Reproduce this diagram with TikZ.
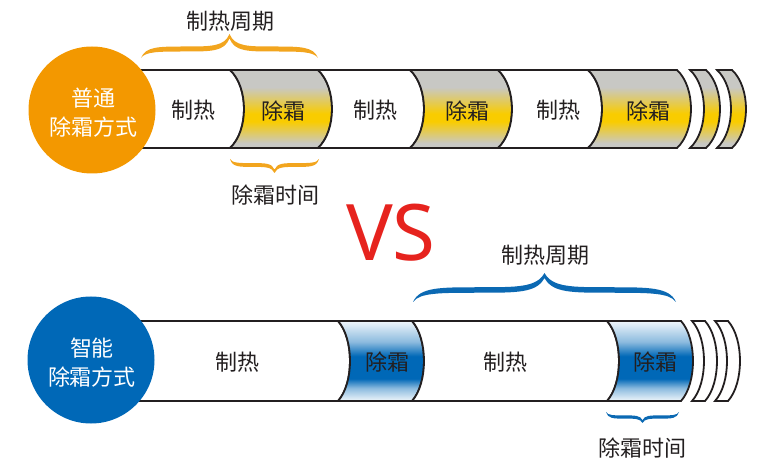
\documentclass[tikz,border=0pt]{standalone}
\usepackage{fontspec}
\setmainfont{Noto Sans CJK SC}
\newfontfamily\vsfont{Noto Sans}
\definecolor{lineC}{HTML}{231F20}
\definecolor{orangeC}{HTML}{F39800}
\definecolor{braceO}{HTML}{F2A51E}
\definecolor{blueC}{HTML}{0068B7}
\definecolor{braceB}{HTML}{0B69B3}
\definecolor{grayC}{HTML}{C8C8C4}
\definecolor{yelC}{HTML}{F9CC00}
\definecolor{redC}{HTML}{E6231E}
\pgfdeclareverticalshading{yelsh}{100bp}{color(0bp)=(grayC); color(28bp)=(grayC); color(42bp)=(yelC); color(47bp)=(yelC); color(64bp)=(grayC); color(100bp)=(grayC)}
\pgfdeclareverticalshading{bluesh}{100bp}{color(0bp)=(blueC!4); color(25bp)=(blueC!6); color(33bp)=(blueC!45); color(39bp)=(blueC); color(53bp)=(blueC); color(62bp)=(blueC!45); color(75bp)=(blueC!6); color(100bp)=(blueC!4)}
\newcommand\barseg[6]{%
 \pgfmathsetmacro\sgK{4*#5/3}%
 \pgfmathsetmacro\sgA{#3+0.22*(#4-#3)}%
 \pgfmathsetmacro\sgB{#4-0.22*(#4-#3)}%
 \path[#6] (#1,#3) -- (#2,#3) .. controls ({#2+\sgK},\sgA) and ({#2+\sgK},\sgB) .. (#2,#4) -- (#1,#4) .. controls ({#1+\sgK},\sgB) and ({#1+\sgK},\sgA) .. cycle;}
% brace: x1, x2, ybody, yend, ytip, thickness, colour
\newcommand\mybrace[7]{%
 \pgfmathsetmacro\brM{(#1+#2)/2}%
 \pgfmathsetmacro\brH{(#2-#1)/2}%
 \pgfmathsetmacro\brS{sign(#5-#3)}%
 \pgfmathsetmacro\brA{#3+\brS*#6/2}%
 \pgfmathsetmacro\brB{#3-\brS*#6/2}%
 \pgfmathsetmacro\brT{#5-\brS*#6*0.9}%
 \fill[#7] (#1,#4)
  .. controls ({#1+0.05*\brH},\brA) and ({#1+0.2*\brH},\brA) .. ({#1+0.5*\brH},\brA)
  .. controls ({#1+0.8*\brH},\brA) and ({\brM-0.06*\brH},\brA) .. (\brM,#5)
  .. controls ({\brM+0.06*\brH},\brA) and ({#2-0.8*\brH},\brA) .. ({#2-0.5*\brH},\brA)
  .. controls ({#2-0.2*\brH},\brA) and ({#2-0.05*\brH},\brA) .. (#2,#4)
  .. controls ({#2-0.05*\brH},\brB) and ({#2-0.2*\brH},\brB) .. ({#2-0.5*\brH},\brB)
  .. controls ({#2-0.8*\brH},\brB) and ({\brM+0.06*\brH},\brB) .. (\brM,\brT)
  .. controls ({\brM-0.06*\brH},\brB) and ({#1+0.8*\brH},\brB) .. ({#1+0.5*\brH},\brB)
  .. controls ({#1+0.2*\brH},\brB) and ({#1+0.05*\brH},\brB) .. cycle;}
\begin{document}
\begin{tikzpicture}[x=1pt,y=-1pt,
  outl/.style={draw=lineC, line width=1.8pt},
  whiteseg/.style={outl, fill=white},
  yelseg/.style={outl, shading=yelsh},
  blueseg/.style={outl, shading=bluesh},
  lab/.style={text=lineC, font=\fontsize{22}{26}\selectfont, inner sep=0pt},
  clab/.style={text=white, align=center, font=\fontsize{22}{29}\selectfont, inner sep=0pt},
  disc/.style={circle, minimum size=127pt, inner sep=0pt}]
\useasboundingbox (0,0) rectangle (764,465);
% ---------- top bar ----------
\barseg{120}{230}{70}{148}{14}{whiteseg}
\barseg{230}{318}{70}{148}{14}{yelseg}
\barseg{318}{410}{70}{148}{14}{whiteseg}
\barseg{410}{498}{70}{148}{14}{yelseg}
\barseg{498}{588}{70}{148}{14}{whiteseg}
\barseg{588}{677}{70}{148}{14}{yelseg}
\barseg{690}{706}{70}{148}{14}{yelseg}
\barseg{717}{732}{70}{148}{14}{yelseg}
\node[disc, fill=orangeC] (c1) at (92,110) {};
\node[clab] (c1t) at (93,113) {普通\\除霜方式};
\node[lab] (t1) at (193,110) {制热};
\node[lab] (t2) at (283,111) {除霜};
\node[lab] (t3) at (375,110) {制热};
\node[lab] (t4) at (467,111) {除霜};
\node[lab] (t5) at (558,110) {制热};
\node[lab] (t6) at (648,111) {除霜};
\mybrace{141}{318}{49}{58}{34}{5}{braceO}
\mybrace{230}{319}{165}{159}{173}{3.8}{braceO}
\node[lab] (tp1) at (230,21) {制热周期};
\node[lab] (tp2) at (275,195) {除霜时间};
% ---------- VS ----------
\node[text=redC, font=\vsfont\fontsize{78}{80}\selectfont, inner sep=0pt] (vs) at (391,233) {VS};
% ---------- bottom bar ----------
\barseg{120}{338}{321}{401}{12}{whiteseg}
\barseg{338}{412}{321}{401}{12}{blueseg}
\barseg{412}{607}{321}{401}{12}{whiteseg}
\barseg{607}{681}{321}{401}{12}{blueseg}
\barseg{692}{705}{321}{401}{12}{whiteseg}
\barseg{715}{728}{321}{401}{12}{whiteseg}
\node[disc, fill=blueC] (c2) at (91,360) {};
\node[clab] (c2t) at (92,363) {智能\\除霜方式};
\node[lab] (b1) at (237,362) {制热};
\node[lab] (b2) at (387,362) {除霜};
\node[lab] (b3) at (505,362) {制热};
\node[lab] (b4) at (655,362) {除霜};
\mybrace{413}{676}{290}{302}{273}{5.5}{braceB}
\mybrace{606}{679}{417}{412}{423}{3.2}{braceB}
\node[lab] (bp1) at (545,255) {制热周期};
\node[lab] (bp2) at (642,448) {除霜时间};
\end{tikzpicture}
\end{document}
